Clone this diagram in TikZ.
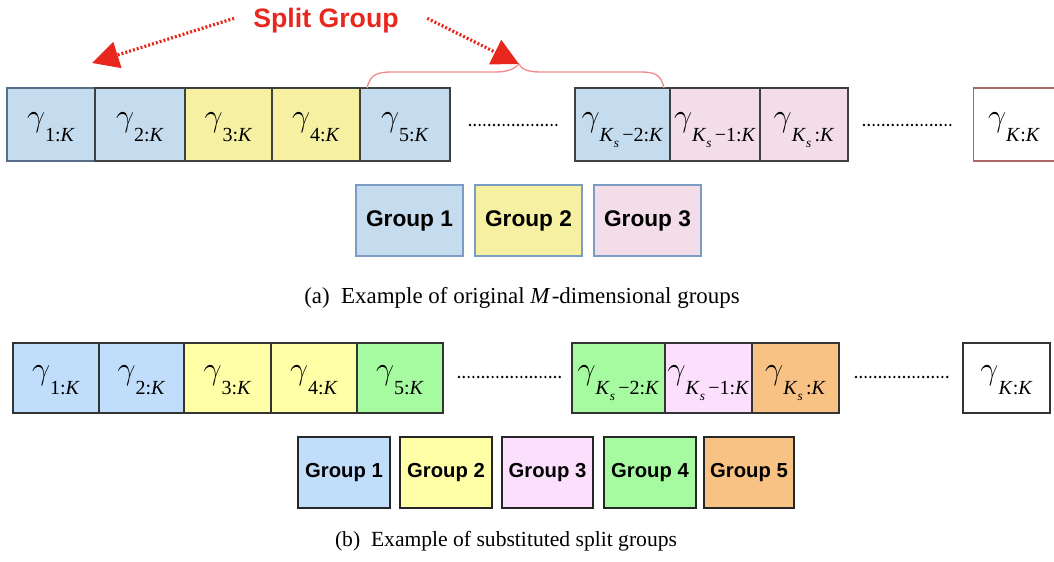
\documentclass[tikz,border=0pt]{standalone}
\usepackage{fontspec}
\setmainfont{Liberation Serif}
\newfontfamily\tms{Liberation Serif}
\newfontfamily\arl{Liberation Sans}
\usetikzlibrary{arrows.meta}
\definecolor{tblue}{HTML}{C5DCEF}
\definecolor{tyellow}{HTML}{F6F0A2}
\definecolor{tpink}{HTML}{F3DDE9}
\definecolor{bblue}{HTML}{C0DEFC}
\definecolor{byellow}{HTML}{FFFFA8}
\definecolor{bpink}{HTML}{FCDFFC}
\definecolor{bgreen}{HTML}{A6FBA0}
\definecolor{borange}{HTML}{F9C285}
\definecolor{sred}{HTML}{E8281E}
\definecolor{bracec}{HTML}{F08C8C}
\definecolor{agb}{HTML}{7C9CC4}
\newcommand\gm[1]{\scalebox{0.97}{\fontsize{24.88}{25}\selectfont$\gamma$}\raisebox{-11.5pt}{\fontsize{15}{15}\tms #1}}
\newcommand\Ks{\textit{K}\raisebox{-4.5pt}{\fontsize{10}{10}\tms\textit{s}}}
\begin{document}
\begin{tikzpicture}[x=0.75pt,y=-0.75pt,
  tcell/.style={draw=black!75,line width=0.9pt,minimum height=54.75pt,inner sep=0pt,anchor=center,text height=10pt,text depth=7.6pt},
  bcell/.style={draw=black!80,line width=0.9pt,minimum height=52.5pt,inner sep=0pt,anchor=center,text height=10pt,text depth=7.6pt},
  agrp/.style={draw=agb,line width=0.8pt,minimum height=53.25pt,minimum width=80.25pt,inner sep=0pt,font=\arl\bfseries\fontsize{17}{18}\selectfont},
  bgrp/.style={draw=black!85,line width=0.9pt,minimum height=53.25pt,minimum width=69pt,inner sep=0pt,font=\arl\bfseries\fontsize{15.2}{16}\selectfont},
  dotline/.style={line width=2pt,line cap=round,dash pattern=on 0pt off 3.6pt},
  sarrow/.style={sred,line width=2.4pt,dash pattern=on 1.5pt off 1.5pt,-{Triangle[length=20pt,width=20pt,sep=0pt]}},
  captxt/.style={font=\fontsize{17.2}{18}\selectfont}
]
\useasboundingbox (0,0) rectangle (1054,561);
% top row
\node[tcell,draw=agb!70!black,fill=tblue,minimum width=66pt] (t1) at (51,124.5) {\gm{1:\textit{K}}};
\node[tcell,fill=tblue,minimum width=67.5pt] (t2) at (140,124.5) {\gm{2:\textit{K}}};
\node[tcell,fill=tyellow,minimum width=65.25pt] (t3) at (228.5,124.5) {\gm{3:\textit{K}}};
\node[tcell,fill=tyellow,minimum width=66pt] (t4) at (316,124.5) {\gm{4:\textit{K}}};
\node[tcell,fill=tblue,minimum width=67.5pt] (t5) at (405,124.5) {\gm{5:\textit{K}}};
\node[tcell,fill=tblue,minimum width=71.25pt] (t6) at (622.5,124.5) {\gm{\Ks\,−2:\textit{K}}};
\node[tcell,fill=tpink,minimum width=67.5pt] (t7) at (715,124.5) {\gm{\Ks\,−1:\textit{K}}};
\node[tcell,fill=tpink,minimum width=66pt] (t8) at (804,124.5) {\gm{\Ks\,:\textit{K}}};
\node[tcell,draw=red!45!black!60,minimum width=67pt,text width=67pt,align=left] (t9) at (1018,124.5) {\hspace{11pt}\gm{\textit{K}:\textit{K}}};
\coordinate (ta1) at (470,125); \coordinate (ta2) at (560,125);
\coordinate (tb1) at (864,125); \coordinate (tb2) at (955,125);
\draw[dotline] (ta1) -- (ta2);
\draw[dotline] (tb1) -- (tb2);
% split group
\node[font=\arl\bfseries\fontsize{20}{20}\selectfont,text=sred] (sg) at (326,21) {Split Group};
\coordinate (la) at (92,63);
\coordinate (ra) at (519,64);
\draw[sarrow] (sg.west) ++(-11pt,2pt) -- (la);
\draw[sarrow] (sg.east) ++(18pt,2pt) -- (ra);
\coordinate (bl) at (367,88); \coordinate (br) at (664,88);
\draw[bracec,line width=1pt] (bl) .. controls (370,74) and (378,72) .. (392,72)
  -- (495,72) .. controls (508,72) and (514,69) .. (ra)
  .. controls (521,69) and (528,72) .. (540,72) -- (640,72)
  .. controls (654,72) and (661,74) .. (br);
% groups a
\node[agrp,fill=tblue] (ga1) at (409.5,220.5) {Group 1};
\node[agrp,fill=tyellow] (ga2) at (528.5,220.5) {Group 2};
\node[agrp,fill=tpink] (ga3) at (647.5,220.5) {Group 3};
\node[captxt] (capa) at (522,298) {(a)\enspace Example of original \textit{M}\kern1pt-dimensional groups};
% bottom row
\node[bcell,fill=bblue,minimum width=64.5pt] (b1) at (56,378) {\gm{1:\textit{K}}};
\node[bcell,fill=bblue,minimum width=63.75pt] (b2) at (141.5,378) {\gm{2:\textit{K}}};
\node[bcell,fill=byellow,minimum width=65.25pt] (b3) at (227.5,378) {\gm{3:\textit{K}}};
\node[bcell,fill=byellow,minimum width=64.5pt] (b4) at (314,378) {\gm{4:\textit{K}}};
\node[bcell,fill=bgreen,minimum width=64.5pt] (b5) at (400,378) {\gm{5:\textit{K}}};
\node[bcell,fill=bgreen,minimum width=69.75pt] (b6) at (618.5,378) {\gm{\Ks\,−2:\textit{K}}};
\node[bcell,fill=bpink,minimum width=65.25pt] (b7) at (708.5,378) {\gm{\Ks\,−1:\textit{K}}};
\node[bcell,fill=borange,minimum width=65.25pt] (b8) at (795.5,378) {\gm{\Ks\,:\textit{K}}};
\node[bcell,fill=white,minimum width=65.25pt] (b9) at (1006.5,378) {\gm{\textit{K}:\textit{K}}};
\coordinate (ba1) at (459,377); \coordinate (ba2) at (560,377);
\coordinate (bb1) at (856,377); \coordinate (bb2) at (950,377);
\draw[dotline] (ba1) -- (ba2);
\draw[dotline] (bb1) -- (bb2);
% groups b
\node[bgrp,fill=bblue] (gb1) at (344,472.5) {Group 1};
\node[bgrp,fill=byellow] (gb2) at (446,472.5) {Group 2};
\node[bgrp,fill=bpink,minimum width=68.25pt] (gb3) at (547.5,472.5) {Group 3};
\node[bgrp,fill=bgreen] (gb4) at (650,472.5) {Group 4};
\node[bgrp,fill=borange,minimum width=67.5pt] (gb5) at (749,472.5) {Group 5};
\node[captxt,font=\fontsize{16.2}{17}\selectfont] (capb) at (506,541) {(b)\enspace Example of substituted split groups};
\end{tikzpicture}
\end{document}
